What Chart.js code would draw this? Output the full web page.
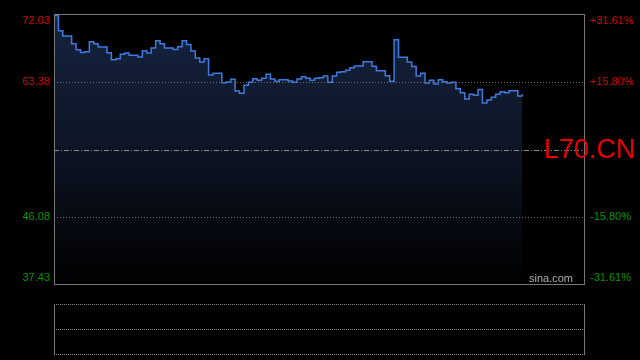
<!DOCTYPE html>
<html>
<head>
<meta charset="utf-8">
<style>
html,body{margin:0;padding:0;background:#000;overflow:hidden;}
canvas{display:block;}
</style>
<script src="https://cdn.jsdelivr.net/npm/chart.js@4/dist/chart.umd.min.js"></script>
</head>
<body>
<canvas id="c" width="640" height="360"></canvas>
<script>
// ---- data ----
const symbol = "L70.CN";
const watermark = "sina.com";
const prevClose = 54.73;
const totalSlots = 120;
const prices = [
  71.95, 70.00, 69.33, 69.33, 68.33, 67.57, 67.20, 67.30, 68.60, 68.33,
  67.90, 67.90, 67.16, 66.27, 66.40, 66.97, 67.14, 66.85, 66.85, 66.63,
  67.44, 67.14, 67.80, 68.72, 68.33, 67.80, 67.80, 67.60, 67.94, 68.72,
  68.25, 67.40, 66.50, 65.99, 66.40, 64.30, 64.53, 64.53, 63.30, 63.41,
  63.76, 62.25, 61.96, 62.99, 63.37, 63.84, 63.63, 63.88, 64.40, 63.80,
  63.50, 63.70, 63.70, 63.55, 63.38, 63.80, 64.09, 63.88, 63.63, 63.88,
  63.97, 64.19, 63.37, 64.19, 64.66, 64.74, 64.92, 65.25, 65.47, 65.47,
  66.02, 66.02, 65.43, 64.86, 64.86, 64.22, 63.51, 68.85, 66.59, 66.59,
  65.99, 65.39, 64.19, 64.53, 63.28, 63.63, 63.15, 63.71, 63.45, 63.28,
  63.37, 62.55, 62.04, 61.22, 61.83, 61.70, 62.46, 60.72, 61.10, 61.45,
  61.83, 62.17, 62.04, 62.30, 62.30, 61.60, 61.83
];
const priceTicks = [72.03, 63.38, 54.73, 46.08, 37.43];
const priceLabels = ["72.03", "63.38", "", "46.08", "37.43"];
const pctLabels = ["+31.61%", "+15.80%", "", "-15.80%", "-31.61%"];

// ---- styles ----
const RED = "#dd0000";
const GREEN = "#009a00";
const FONT = "11px 'Liberation Sans', Arial, sans-serif";

const decor = {
  id: 'decor',
  afterDatasetsDraw(chart) {
    const {ctx, chartArea: a, scales: {y}} = chart;
    ctx.save();
    // grid lines (over the fill, like the reference)
    priceTicks.forEach((t, i) => {
      if (i === 0 || i === priceTicks.length - 1) return;
      const py = Math.round(y.getPixelForValue(t)) + 0.5;
      ctx.beginPath();
      if (t === prevClose) { ctx.setLineDash([5, 2, 1, 2]); ctx.strokeStyle = '#8a8a8a'; }
      else { ctx.setLineDash([1, 2]); ctx.strokeStyle = '#707070'; }
      ctx.lineWidth = 1;
      ctx.moveTo(a.left, py); ctx.lineTo(a.right, py);
      ctx.stroke();
    });
    // main frame
    ctx.strokeStyle = '#777';
    ctx.lineWidth = 1;
    ctx.setLineDash([]);
    ctx.strokeRect(a.left + 0.5, a.top - 0.5, a.right - a.left, a.bottom - a.top + 1);
    // axis labels
    ctx.font = FONT;
    ctx.textBaseline = 'middle';
    priceTicks.forEach((t, i) => {
      let py = y.getPixelForValue(t);
      py = Math.min(Math.max(py, a.top + 6), a.bottom - 6);
      ctx.fillStyle = t > prevClose ? RED : GREEN;
      if (priceLabels[i]) { ctx.textAlign = 'right'; ctx.fillText(priceLabels[i], a.left - 4, py); }
      if (pctLabels[i]) { ctx.textAlign = 'left'; ctx.fillText(pctLabels[i], a.right + 6, py); }
    });
    // watermark
    ctx.fillStyle = '#b0b0b0';
    ctx.font = "11px 'Liberation Sans', Arial, sans-serif";
    ctx.textAlign = 'right';
    ctx.textBaseline = 'alphabetic';
    ctx.fillText(watermark, a.right - 11, a.bottom - 2);
    // symbol
    ctx.fillStyle = '#ee0000';
    ctx.font = "27px 'Liberation Sans', Arial, sans-serif";
    ctx.textAlign = 'left';
    ctx.textBaseline = 'middle';
    ctx.fillText(symbol, a.left + 490, y.getPixelForValue(prevClose) + 1);
    // volume panel
    const vt = 304.5, vb = 354.5, vm = 329.5;
    ctx.strokeStyle = '#777';
    ctx.beginPath();
    ctx.moveTo(a.left + 0.5, vt); ctx.lineTo(a.left + 0.5, vb);
    ctx.moveTo(a.right + 0.5, vt); ctx.lineTo(a.right + 0.5, vb);
    ctx.stroke();
    ctx.setLineDash([1, 1]);
    ctx.strokeStyle = '#8a8a8a';
    ctx.beginPath();
    [vt, vm, vb].forEach(v => { ctx.moveTo(a.left, v); ctx.lineTo(a.right + 1, v); });
    ctx.stroke();
    ctx.restore();
  }
};

const ctx = document.getElementById('c').getContext('2d');
new Chart(ctx, {
  type: 'line',
  data: {
    datasets: [{
      data: prices.map((v, i) => ({x: i, y: v})),
      borderColor: '#3d7be0',
      borderWidth: 1.5,
      stepped: true,
      pointRadius: 0,
      fill: 'start',
      backgroundColor: (c) => {
        const a = c.chart.chartArea;
        if (!a) return 'rgba(20,34,60,1)';
        const g = c.chart.ctx.createLinearGradient(0, a.top, 0, a.bottom);
        g.addColorStop(0, 'rgb(22,36,64)');
        g.addColorStop(0.5, 'rgb(13,21,37)');
        g.addColorStop(1, 'rgb(0,0,0)');
        return g;
      }
    }]
  },
  options: {
    responsive: false,
    animation: false,
    devicePixelRatio: 1,
    layout: {padding: {left: 54, right: 56, top: 15, bottom: 76}},
    plugins: {legend: {display: false}, tooltip: {enabled: false}},
    scales: {
      x: {type: 'linear', min: 0, max: totalSlots, display: false},
      y: {min: priceTicks[priceTicks.length - 1], max: priceTicks[0], display: false}
    }
  },
  plugins: [decor]
});
</script>
</body>
</html>
